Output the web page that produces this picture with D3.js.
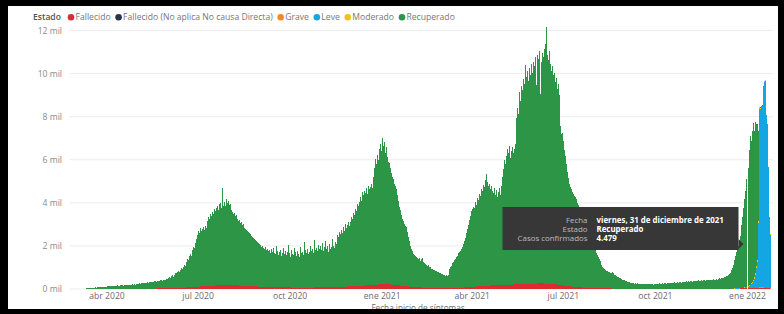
<!DOCTYPE html>
<html><head><meta charset="utf-8">
<script src="https://cdn.jsdelivr.net/npm/d3@7"></script>
<style>
html,body{margin:0;padding:0;background:#fff;}
svg{display:block;}
text{font-family:"Open Sans","Noto Sans",sans-serif;}
</style></head><body>
<svg id="c" width="784" height="314"></svg>
<script>
// ---------------- DATA ----------------
const startDate = "2020-03-06"; // first day of the daily series below
const recuperado = [
 5,10,8,15,20,18,25,30,28,40,45,42,55,60,58,70,65,80,85,78,90,95,88,100,105,110,
 110,120,115,130,125,140,120,135,150,145,130,160,150,140,165,155,170,150,160,175,180,165,170,190,185,175,200,195,210,190,
 200,220,210,240,230,250,260,240,270,255,280,290,270,300,310,290,320,300,330,340,320,350,360,340,370,380,360,400,390,410,420,
 430,470,520,480,560,600,540,620,680,720,760,800,740,850,900,880,980,1050,1000,1200,1300,1250,1450,1550,1450,1700,1850,1800,2050,2200,
 2400,2600,2500,2700,2550,2650,2750,2600,2800,2700,3000,3200,3100,3350,3250,3400,3300,3550,3450,3600,3700,3500,3750,3800,3600,4500,3700,3850,3650,4000,3800,
 3900,3700,3750,3500,3400,3300,3350,3200,3250,3100,3000,3050,2900,2950,2800,2850,2700,2650,2600,2550,2500,2450,2400,2350,2300,2250,2200,2150,2100,2050,2000,
 2000,1950,1850,1900,1800,1750,1850,1700,1750,1650,1700,1600,1750,1650,1800,1600,1550,1900,1700,1500,1650,1750,1450,1600,1850,1550,1700,1500,1650,1950,
 1600,1400,1750,1550,1500,1850,1650,1450,1700,1550,1400,1900,1600,1650,1500,2100,1750,1600,1800,1550,1650,1950,1700,1800,1600,2200,1750,1850,1700,1950,1800,
 1900,1750,2050,1700,1850,2150,1800,1900,1650,2000,1750,1850,2250,1900,1800,2100,2000,2400,2300,2550,2450,2650,2500,2750,2600,2900,2700,2850,3000,2800,
 3000,3200,3100,3400,3300,3600,3500,3800,3700,3900,4100,3950,4350,4200,4400,4300,4500,4250,4600,4450,4550,4700,4500,5000,5400,5850,5600,6000,5800,6300,6500,
 6200,6780,6400,6600,6100,6350,5900,5700,5650,5400,5200,5000,4900,4700,4600,4450,4200,3900,3650,3500,3300,3100,3000,2900,2800,2750,2500,2300,2100,1900,1750,
 1650,1550,1500,1450,1400,1350,1300,1380,1250,1300,1350,1200,1150,1100,1050,1000,1050,950,980,900,880,850,820,800,780,760,740,720,
 700,680,650,620,600,580,600,560,620,900,1000,1050,1150,1200,1300,1350,1450,1500,1600,1650,1700,1800,1900,2000,2150,2300,2500,2700,2900,3100,3300,
 3500,3600,3700,3650,3900,3800,4100,4000,4300,4200,4500,4400,4700,4600,4900,5200,4800,4600,4700,4500,4600,4400,4300,4500,4200,4400,4100,4300,4500,4200,
 4600,5000,5400,5800,5600,6000,6300,6100,6450,5900,6200,6400,6100,6300,6500,7700,8200,7900,8900,8500,9200,9000,9500,9300,10150,9600,9900,9400,10000,9700,10200,
 9800,10300,10100,10500,9200,10600,10400,10800,8800,10300,10700,10500,10900,11100,11900,10600,10400,10800,10200,9900,10100,9700,9800,9400,9600,9100,9300,8800,7400,7000,
 7050,6700,6300,6000,5650,5300,5000,4750,4600,4500,4400,4300,4200,4150,4100,3900,3800,3600,3500,3300,3200,3100,3000,2900,2750,2600,2500,2400,2300,2200,2100,
 2000,1900,1800,1650,1550,1450,1350,1250,1100,1000,950,900,850,820,800,780,760,740,720,750,700,650,620,580,550,520,500,470,440,420,400,
 380,360,340,330,310,290,280,270,260,250,240,260,230,250,220,240,230,210,240,220,230,210,220,200,230,210,220,200,210,190,
 200,220,210,240,230,250,220,240,260,230,250,270,240,260,280,250,270,290,260,280,300,270,290,310,280,300,320,290,310,330,300,
 320,340,310,350,330,360,340,320,370,350,380,350,370,390,360,380,400,370,390,410,380,400,420,390,410,430,400,420,440,410,
 430,450,420,460,480,450,500,520,490,540,560,600,580,650,700,750,850,950,1100,1300,1500,1700,1900,1950,2100,2400,2900,3300,3700,4100,4479,
 5000,5500,6300,6900,6600,7000,7300,6800,7000,6600,6300,4200,40,20,10,8,6,5,4,3,2,2,1,1
];
const fallecido = [
 0,0,0,0,0,0,0,0,1,0,1,1,1,2,1,2,2,3,2,3,3,4,3,4,4,5,
 5,6,5,6,7,6,7,8,7,8,8,9,8,9,10,9,10,10,11,10,11,12,11,12,12,13,12,13,14,13,
 14,15,14,16,15,17,16,17,18,17,19,18,20,19,21,20,22,21,23,22,24,23,25,24,26,27,26,28,29,28,30,
 32,34,33,36,38,37,40,42,41,45,48,47,52,55,54,60,63,62,68,72,70,78,82,80,88,92,90,98,102,100,
 108,112,110,118,122,120,128,132,130,138,142,140,148,152,150,158,160,158,165,168,166,172,175,172,178,180,176,182,184,180,185,
 186,182,184,180,178,175,176,172,170,168,165,162,160,158,155,152,150,148,145,142,140,138,135,132,130,128,125,122,120,118,115,
 112,110,108,105,104,102,100,98,97,95,94,92,90,89,88,86,85,84,82,81,80,79,78,77,76,75,74,73,72,71,
 70,70,69,69,68,68,68,67,67,67,66,66,66,66,66,66,66,67,67,67,68,68,68,69,69,70,70,71,72,72,73,
 74,75,76,77,78,79,80,81,82,84,85,86,88,90,92,94,96,98,100,102,104,106,108,110,112,114,116,118,120,122,
 124,126,128,130,133,136,139,142,145,148,151,154,157,160,163,166,169,172,175,178,181,184,187,190,194,198,202,206,210,214,218,
 222,225,228,230,228,225,222,218,214,210,205,200,195,190,185,180,175,170,165,160,155,150,145,140,135,130,125,120,115,110,105,
 100,96,92,88,85,82,79,76,73,70,67,64,62,60,58,56,54,52,50,48,47,46,45,44,43,42,41,40,
 39,38,38,37,37,36,36,36,36,37,38,39,40,42,44,46,48,50,53,56,59,62,65,68,72,76,80,84,88,92,96,
 100,104,108,112,116,120,124,128,132,136,140,143,146,149,152,155,158,160,162,164,166,168,170,172,174,176,178,180,182,184,
 186,188,190,192,194,196,198,200,202,204,206,208,210,212,214,216,218,220,222,224,226,228,230,232,234,236,238,240,242,244,246,
 248,250,252,254,255,256,257,258,258,258,257,256,255,254,252,250,247,244,240,236,232,227,222,216,210,204,198,192,186,180,
 174,168,162,156,150,144,138,132,126,120,115,110,105,100,95,91,87,83,79,75,72,69,66,63,60,57,55,53,51,49,47,
 45,43,41,40,38,37,35,34,33,32,31,30,29,28,27,26,25,25,24,23,23,22,21,21,20,20,19,19,18,18,17,
 17,17,16,16,16,15,15,15,15,14,14,14,14,13,13,13,13,13,12,12,12,12,12,12,11,11,11,11,11,11,
 10,11,10,11,10,10,11,10,10,11,10,10,10,11,10,10,10,10,11,10,10,10,10,10,10,10,9,10,10,10,9,
 10,9,10,9,10,9,9,10,9,9,10,9,9,9,10,9,9,9,9,10,9,9,9,9,10,9,9,9,10,9,
 9,9,10,9,10,10,10,11,10,11,11,12,12,13,13,14,15,15,16,17,18,19,20,21,22,24,25,27,28,30,32,
 34,36,38,40,42,44,46,48,50,52,54,56,58,60,60,58,56,54,50,46,40,34,26,20
];
const recentStart = "2021-12-20"; // first day of the recent-status series below
const leve = [5,5,8,10,10,12,15,18,20,25,30,35,
 40,60,90,120,160,220,300,420,600,900,1200,3000,8300,8300,8400,8450,9300,9550,9600,8000,7600,5600,3300,2500];
const moderado = [2,2,3,3,4,5,6,8,10,12,15,18,
 20,25,30,40,50,60,70,80,90,95,100,90,60,45,35,30,25,22,20,18,15,12,10,8];
const grave = [1,1,1,1,2,2,2,2,3,3,3,4,
 4,5,5,6,6,7,8,8,9,10,10,11,12,12,12,13,13,12,12,11,10,8,6,5];
const fallecidoNoAplica = [0,0,0,0,0,0,1,0,0,0,1,0,
 0,1,0,0,1,0,0,1,0,1,0,0,1,0,0,0,1,0,0,0,0,0,0,0];

const estados = ["Fallecido","Fallecido (No aplica No causa Directa)","Grave","Leve","Moderado","Recuperado"];
const colores = ["#dd2c2f","#2a3450","#f58a23","#14a5e3","#f2c21b","#2c9646"];
const yTicks = [0,2000,4000,6000,8000,10000,12000];
const yTickLabels = ["0 mil","2 mil","4 mil","6 mil","8 mil","10 mil","12 mil"];
const xTickDates = ["2020-04-01","2020-07-01","2020-10-01","2021-01-01","2021-04-01","2021-07-01","2021-10-01","2022-01-01"];
const xTickLabels = ["abr 2020","jul 2020","oct 2020","ene 2021","abr 2021","jul 2021","oct 2021","ene 2022"];
const tooltipDate = "2021-12-31";
const tooltipRows = [["Fecha","viernes, 31 de diciembre de 2021"],["Estado","Recuperado"],["Casos confirmados","4.479"]];

// ---------------- CHART ----------------
const svg = d3.select("#c");
const parse = d3.utcParse("%Y-%m-%d");
const t0 = parse(startDate), tr = parse(recentStart);
const nDays = recuperado.length;
const days = d3.range(nDays).map(i => d3.utcDay.offset(t0, i));
const recentIdx = Math.round((tr - t0) / 864e5);
const rows = days.map((d, i) => {
  const j = i - recentIdx;
  const g = (arr) => (j >= 0 && j < arr.length) ? arr[j] : 0;
  return {date: d,
    "Fallecido": fallecido[i] || 0,
    "Fallecido (No aplica No causa Directa)": g(fallecidoNoAplica),
    "Grave": g(grave), "Leve": g(leve), "Moderado": g(moderado),
    "Recuperado": recuperado[i]};
});
const stack = d3.stack().keys(estados)(rows);

const x = d3.scaleUtc().domain([parse(xTickDates[0]), parse(xTickDates[xTickDates.length-1])]).range([107, 747.5]);
const y = d3.scaleLinear().domain([0, 12000]).range([289, 30.5]);
const dayW = x(d3.utcDay.offset(t0,1)) - x(t0);

// gridlines
svg.append("g").selectAll("line").data(yTicks).join("line")
  .attr("x1", 70).attr("x2", 773)
  .attr("y1", d => y(d)).attr("y2", d => y(d))
  .attr("stroke", "#ececec").attr("stroke-width", 1);

// y labels
svg.append("g").selectAll("text").data(yTicks).join("text")
  .attr("x", 62).attr("y", d => y(d)).attr("dy", "0.35em")
  .attr("text-anchor", "end").attr("font-size", 8.6).attr("fill", "#8a8a8a")
  .text((d, i) => yTickLabels[i]);

// bars (1 px per day, crisp so that adjacent days make a solid area)
const layers = svg.append("g").attr("shape-rendering", "crispEdges")
  .selectAll("g").data(stack).join("g")
  .attr("fill", (d, i) => colores[i]);
layers.selectAll("rect").data(d => d.filter(s => s[1] - s[0] > 0)).join("rect")
  .attr("x", s => Math.floor(x(s.data.date) - dayW / 2))
  .attr("width", 1)
  .attr("y", s => y(s[1]))
  .attr("height", s => y(s[0]) - y(s[1]));

// x labels
svg.append("g").selectAll("text").data(xTickDates).join("text")
  .attr("x", d => x(parse(d))).attr("y", 298.5)
  .attr("text-anchor", "middle").attr("font-size", 8.6).attr("fill", "#6b6b6b")
  .text((d, i) => xTickLabels[i]);
svg.append("text").attr("x", 418).attr("y", 310.5).attr("text-anchor", "middle")
  .attr("font-size", 8.2).attr("fill", "#6b6b6b").text("Fecha inicio de síntomas");

// legend
const lg = svg.append("g").attr("font-size", 8.6);
lg.append("text").attr("x", 33).attr("y", 20).attr("fill", "#555").attr("font-weight", 600).text("Estado");
let cx = 71;
estados.forEach((e, i) => {
  lg.append("circle").attr("cx", cx).attr("cy", 17.2).attr("r", 3.3).attr("fill", colores[i]);
  const t = lg.append("text").attr("x", cx + 4.5).attr("y", 20).attr("fill", "#777").text(e);
  cx += 4.5 + t.node().getComputedTextLength() + 8;
});

// tooltip
const tipX = x(parse(tooltipDate)) - 3;
const tip = svg.append("g");
tip.append("rect").attr("x", tipX - 241).attr("y", 207).attr("width", 236).attr("height", 43).attr("fill", "#373737");
tip.append("path").attr("d", `M${tipX-5},239 L${tipX},244 L${tipX-5},249 Z`).attr("fill", "#373737");
tooltipRows.forEach((r, i) => {
  tip.append("text").attr("x", tipX - 156).attr("y", 222.5 + i * 9).attr("text-anchor", "end")
    .attr("font-size", 7.9).attr("fill", "#bcbcbc").text(r[0]);
  tip.append("text").attr("x", tipX - 147).attr("y", 222.5 + i * 9)
    .attr("font-size", 7.9).attr("font-weight", 700).attr("fill", "#fff").text(r[1]);
});

// black frame
const fr = svg.append("g").attr("fill", "#000");
fr.append("rect").attr("x", 0).attr("y", 0).attr("width", 784).attr("height", 6);
fr.append("rect").attr("x", 0).attr("y", 0).attr("width", 8).attr("height", 314);
fr.append("rect").attr("x", 778).attr("y", 0).attr("width", 6).attr("height", 314);
fr.append("rect").attr("x", 0).attr("y", 309).attr("width", 784).attr("height", 5);
</script>
</body></html>
